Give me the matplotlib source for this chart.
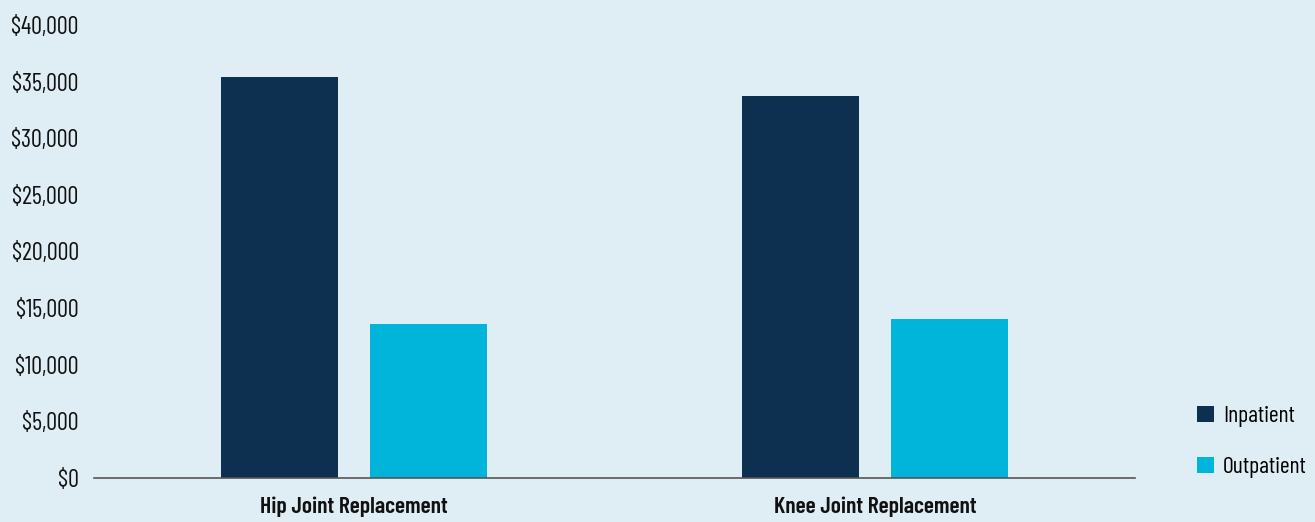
import matplotlib
matplotlib.use("Agg")
import matplotlib.pyplot as plt
import numpy as np

categories = ["Hip Joint Replacement", "Knee Joint Replacement"]
inpatient = [35400, 33700]
outpatient = [13600, 14000]
yticks = [0, 5000, 10000, 15000, 20000, 25000, 30000, 35000, 40000]

bg = "#dfedf5"
col_in = "#0e3050"
col_out = "#00b4da"

plt.rcParams["font.family"] = ["Barlow Condensed", "DejaVu Sans"]

fig = plt.figure(figsize=(13.15, 5.22), dpi=100, facecolor=bg)
ax = fig.add_axes([94 / 1315, 1 - 478 / 522, (1135 - 94) / 1315, (478 - 25) / 522])
ax.set_facecolor(bg)

x = np.arange(len(categories))
w = 0.225
off = 0.1435
ax.bar(x - off, inpatient, w, color=col_in, label="Inpatient")
ax.bar(x + off, outpatient, w, color=col_out, label="Outpatient")

ax.set_xlim(-0.5, 1.5)
ax.set_ylim(0, 40000)
ax.set_yticks(yticks)
ax.set_yticklabels([f"${v:,}" for v in yticks], fontsize=17.5, color="#111111")
ax.set_xticks(x)
ax.set_xticklabels(categories, fontsize=17, fontweight=600, color="#111111")
ax.tick_params(axis="y", length=0, pad=11)
ax.tick_params(axis="x", length=0, pad=13)

for s in ["top", "right", "left"]:
    ax.spines[s].set_visible(False)
ax.spines["bottom"].set_color("#555555")
ax.spines["bottom"].set_linewidth(1.2)

# legend sits in the right margin, outside the axes
leg = fig.legend(loc="center left", bbox_to_anchor=(1176 / 1315, 1 - 442 / 522),
                 frameon=False, fontsize=17, handlelength=0.7, handleheight=0.7,
                 labelspacing=1.25, handletextpad=0.4)

plt.savefig("out.png", dpi=100, facecolor=bg)
